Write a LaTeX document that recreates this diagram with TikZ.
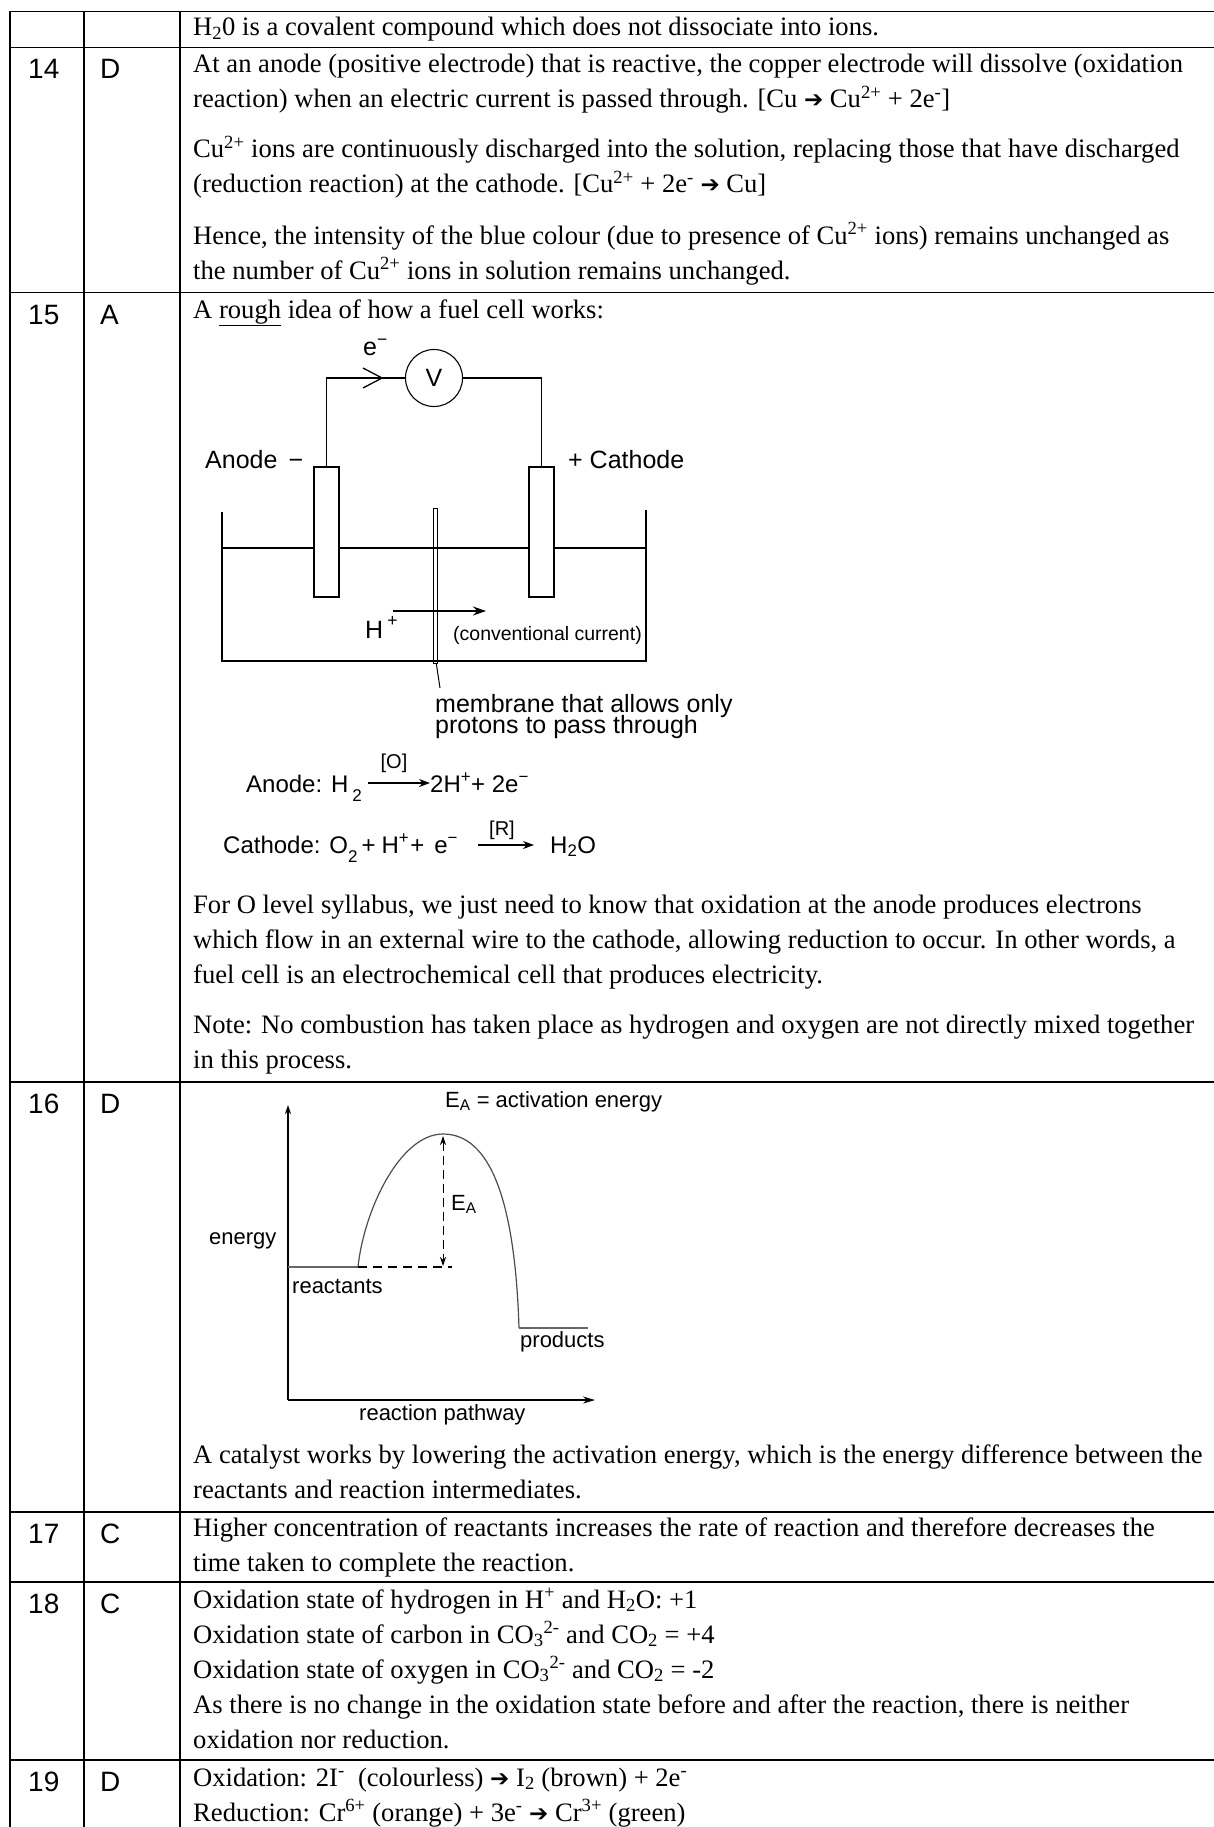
\documentclass[tikz,border=0pt]{standalone}
\usepackage{fontspec}
\setmainfont{Liberation Serif}
\setsansfont{Liberation Sans}
\newfontfamily\dejavu{DejaVu Sans}
\usetikzlibrary{arrows.meta}
\newcommand{\rarr}{{\dejavu\fontsize{23}{23}\selectfont ➔}}
\newcommand{\lsub}[1]{\raisebox{-9pt}{\fontsize{17}{17}\selectfont #1}}
\begin{document}
\begin{tikzpicture}[x=1pt,y=-1pt,
  body/.style={font=\rmfamily\fontsize{26.6}{35}\selectfont, anchor=base west, inner sep=0pt},
  num/.style={font=\sffamily\fontsize{28}{28}\selectfont, anchor=base west, inner sep=0pt},
  lab/.style={font=\sffamily\fontsize{25}{25}\selectfont, inner sep=0pt},
  eq/.style={font=\sffamily\fontsize{24}{24}\selectfont, inner sep=0pt, anchor=base west},
  tiny/.style={font=\sffamily\fontsize{20}{20}\selectfont, inner sep=0pt},
  smalllab/.style={font=\sffamily\fontsize{19.5}{19.5}\selectfont, inner sep=0pt, anchor=base west},
  glab/.style={font=\sffamily\fontsize{22}{22}\selectfont, inner sep=0pt, anchor=base west},
  grid/.style={line width=1.5pt},
  wire/.style={line width=1.3pt},
  elec/.style={draw, line width=1.3pt, minimum width=25pt, minimum height=130pt, inner sep=0pt},
  gline/.style={line width=1.2pt},
]
\useasboundingbox (0,0) rectangle (1214,1827);
% ---------- table grid ----------
\foreach \yy in {11.7,47.7,292.7,1082,1512,1582,1760}
  \draw[grid] (9.3,\yy) -- (1214,\yy);
\foreach \xx in {10,84,180}
  \draw[grid] (\xx,11) -- (\xx,1827);
% ---------- column numbers / letters ----------
\node[num] (n14) at (28,79) {14};  \node[num] (a14) at (100,79) {D};
\node[num] (n15) at (28,324) {15}; \node[num] (a15) at (100,324) {A};
\node[num] (n16) at (28,1113) {16}; \node[num] (a16) at (100,1113) {D};
\node[num] (n17) at (28,1543) {17}; \node[num] (a17) at (100,1543) {C};
\node[num] (n18) at (28,1613) {18}; \node[num] (a18) at (100,1613) {C};
\node[num] (n19) at (28,1791) {19}; \node[num] (a19) at (100,1791) {D};
% ---------- row 13 (tail) ----------
\node[body] (t0) at (193,36) {H\textsubscript{2}0 is a covalent compound which does not dissociate into ions.};
% ---------- row 14 ----------
\node[body] (t14a) at (193,73) {At an anode (positive electrode) that is reactive, the copper electrode will dissolve (oxidation};
\node[body] (t14b) at (193,108) {reaction) when an electric current is passed through. [Cu \rarr\ Cu\textsuperscript{2+} + 2e\textsuperscript{-}]};
\node[body] (t14c) at (193,158) {Cu\textsuperscript{2+} ions are continuously discharged into the solution, replacing those that have discharged};
\node[body] (t14d) at (193,193) {(reduction reaction) at the cathode. [Cu\textsuperscript{2+} + 2e\textsuperscript{-} \rarr\ Cu]};
\node[body] (t14e) at (193,244) {Hence, the intensity of the blue colour (due to presence of Cu\textsuperscript{2+} ions) remains unchanged as};
\node[body] (t14f) at (193,279) {the number of Cu\textsuperscript{2+} ions in solution remains unchanged.};
% ---------- row 15 ----------
\node[body] (t15a) at (193,318) {A \underline{rough} idea of how a fuel cell works:};
% fuel cell diagram
\node[elec] (anodeEl) at (326.5,532) {};
\node[elec] (cathodeEl) at (541.5,532) {};
\node[circle, draw, line width=1.1pt, minimum size=57pt, inner sep=0pt, lab] (volt) at (434,378) {V};
\draw[wire] (anodeEl.north) |- (volt.west);
\draw[wire] (volt.east) -| (cathodeEl.north);
\draw[wire] (363,368) -- (382,378) -- (363,388);
\node[lab, anchor=base west] (elab) at (363,355) {e\textsuperscript{−}};
\draw[wire] (222,512) -- (222,661) -- (646,661) -- (646,510);
\draw[wire] (222,548) -- (314,548);
\draw[wire] (339,548) -- (529,548);
\draw[wire] (554,548) -- (646,548);
\node[draw, line width=1pt, minimum width=4.5pt, minimum height=155pt, inner sep=0pt] (membrane) at (435.3,585.5) {};
\node[lab, anchor=base west] (anodeLab) at (205,468) {Anode \,−};
\node[lab, anchor=base west] (cathLab) at (568,468) {+ Cathode};
\coordinate (hs) at (393,611);
\coordinate (he) at (486,611);
\draw[wire, -{Stealth[length=13pt,width=9pt]}] (hs) -- (he);
\node[lab, anchor=base west] (hplus) at (365,638) {H\,\raisebox{2pt}{\textsuperscript{+}}};
\node[smalllab] (conv) at (453,640) {(conventional current)};
\coordinate (lead) at (440,688);
\draw[line width=1pt] ([xshift=1pt]membrane.south) -- (lead);
\node[lab, anchor=base west] (mem1) at (435,712) {membrane that allows only};
\node[lab, anchor=base west] (mem2) at (435,733) {protons to pass through};
% equations
\node[eq] (anEq) at (246,792) {Anode: H\,\lsub{2}};
\coordinate (aa1) at (368,783);
\coordinate (aa2) at (430,783);
\draw[wire, -{Stealth[length=11pt,width=8pt]}] (aa1) -- (aa2);
\node[tiny] (oLab) at (394,763) {[O]};
\node[eq] (anProd) at (430,792) {2H\textsuperscript{+}+ 2e\textsuperscript{−}};
\node[eq] (caEq) at (223,853) {Cathode: O\lsub{2}\hspace{4pt}+\hspace{6pt}H\textsuperscript{+}\hspace{1pt}+\hspace{10pt}e\textsuperscript{−}};
\coordinate (ca1) at (478,845);
\coordinate (ca2) at (534,845);
\draw[wire, -{Stealth[length=11pt,width=8pt]}] (ca1) -- (ca2);
\node[tiny] (rLab) at (502,830) {[R]};
\node[eq] (caProd) at (550,853) {H\textsubscript{2}O};
\node[body] (t15b) at (193,913) {For O level syllabus, we just need to know that oxidation at the anode produces electrons};
\node[body] (t15c) at (193,948) {which flow in an external wire to the cathode, allowing reduction to occur. In other words, a};
\node[body] (t15d) at (193,983) {fuel cell is an electrochemical cell that produces electricity.};
\node[body] (t15e) at (193,1033) {Note: No combustion has taken place as hydrogen and oxygen are not directly mixed together};
\node[body] (t15f) at (193,1068) {in this process.};
% ---------- row 16: energy profile ----------
\coordinate (orig) at (288,1400);
\coordinate (ytop) at (288,1105);
\coordinate (xend) at (595,1400);
\draw[gline, -{Stealth[length=9pt,width=6pt]}] (orig) -- (ytop);
\draw[gline, -{Stealth[length=12pt,width=7pt]}] (orig) -- (xend);
\coordinate (r0) at (288,1267);
\coordinate (r1) at (358,1267);
\coordinate (pk) at (443,1134);
\coordinate (p0) at (519,1328);
\coordinate (p1) at (588,1328);
\draw[gline, black!60] (r0) -- (r1);
\draw[gline, black!70] (r1) .. controls (364,1210) and (400,1134) .. (pk)
      .. controls (490,1134) and (515,1200) .. (p0);
\draw[gline, black!60] (p0) -- (p1);
\coordinate (dd) at (452,1267);
\draw[gline, dash pattern=on 9pt off 6pt] (r1) -- (dd);
\coordinate (ea1) at (443,1136);
\coordinate (ea2) at (443,1266);
\draw[line width=1pt, dash pattern=on 9pt off 5pt, {Stealth[length=9pt,width=6pt]}-{Stealth[length=9pt,width=6pt]}] (ea1) -- (ea2);
\node[glab] (eaTitle) at (445,1107) {E\textsubscript{A} = activation energy};
\node[glab] (eaLab) at (451,1210) {E\textsubscript{A}};
\node[glab] (enLab) at (209,1244) {energy};
\node[glab] (reLab) at (292,1293) {reactants};
\node[glab] (prLab) at (520,1347) {products};
\node[glab] (rpLab) at (359,1420) {reaction pathway};
\node[body] (t16a) at (193,1463) {A catalyst works by lowering the activation energy, which is the energy difference between the};
\node[body] (t16b) at (193,1498) {reactants and reaction intermediates.};
% ---------- row 17 ----------
\node[body] (t17a) at (193,1536) {Higher concentration of reactants increases the rate of reaction and therefore decreases the};
\node[body] (t17b) at (193,1571) {time taken to complete the reaction.};
% ---------- row 18 ----------
\node[body] (t18a) at (193,1608) {Oxidation state of hydrogen in H\textsuperscript{+} and H\textsubscript{2}O: +1};
\node[body] (t18b) at (193,1643) {Oxidation state of carbon in CO\textsubscript{3}\textsuperscript{2-} and CO\textsubscript{2} = +4};
\node[body] (t18c) at (193,1678) {Oxidation state of oxygen in CO\textsubscript{3}\textsuperscript{2-} and CO\textsubscript{2} = -2};
\node[body] (t18d) at (193,1713) {As there is no change in the oxidation state before and after the reaction, there is neither};
\node[body] (t18e) at (193,1748) {oxidation nor reduction.};
% ---------- row 19 ----------
\node[body] (t19a) at (193,1786) {Oxidation: 2I\textsuperscript{-}\ \ (colourless) \rarr\ I\textsubscript{2} (brown) + 2e\textsuperscript{-}};
\node[body] (t19b) at (193,1821) {Reduction: Cr\textsuperscript{6+} (orange) + 3e\textsuperscript{-} \rarr\ Cr\textsuperscript{3+} (green)};
\end{tikzpicture}
\end{document}
